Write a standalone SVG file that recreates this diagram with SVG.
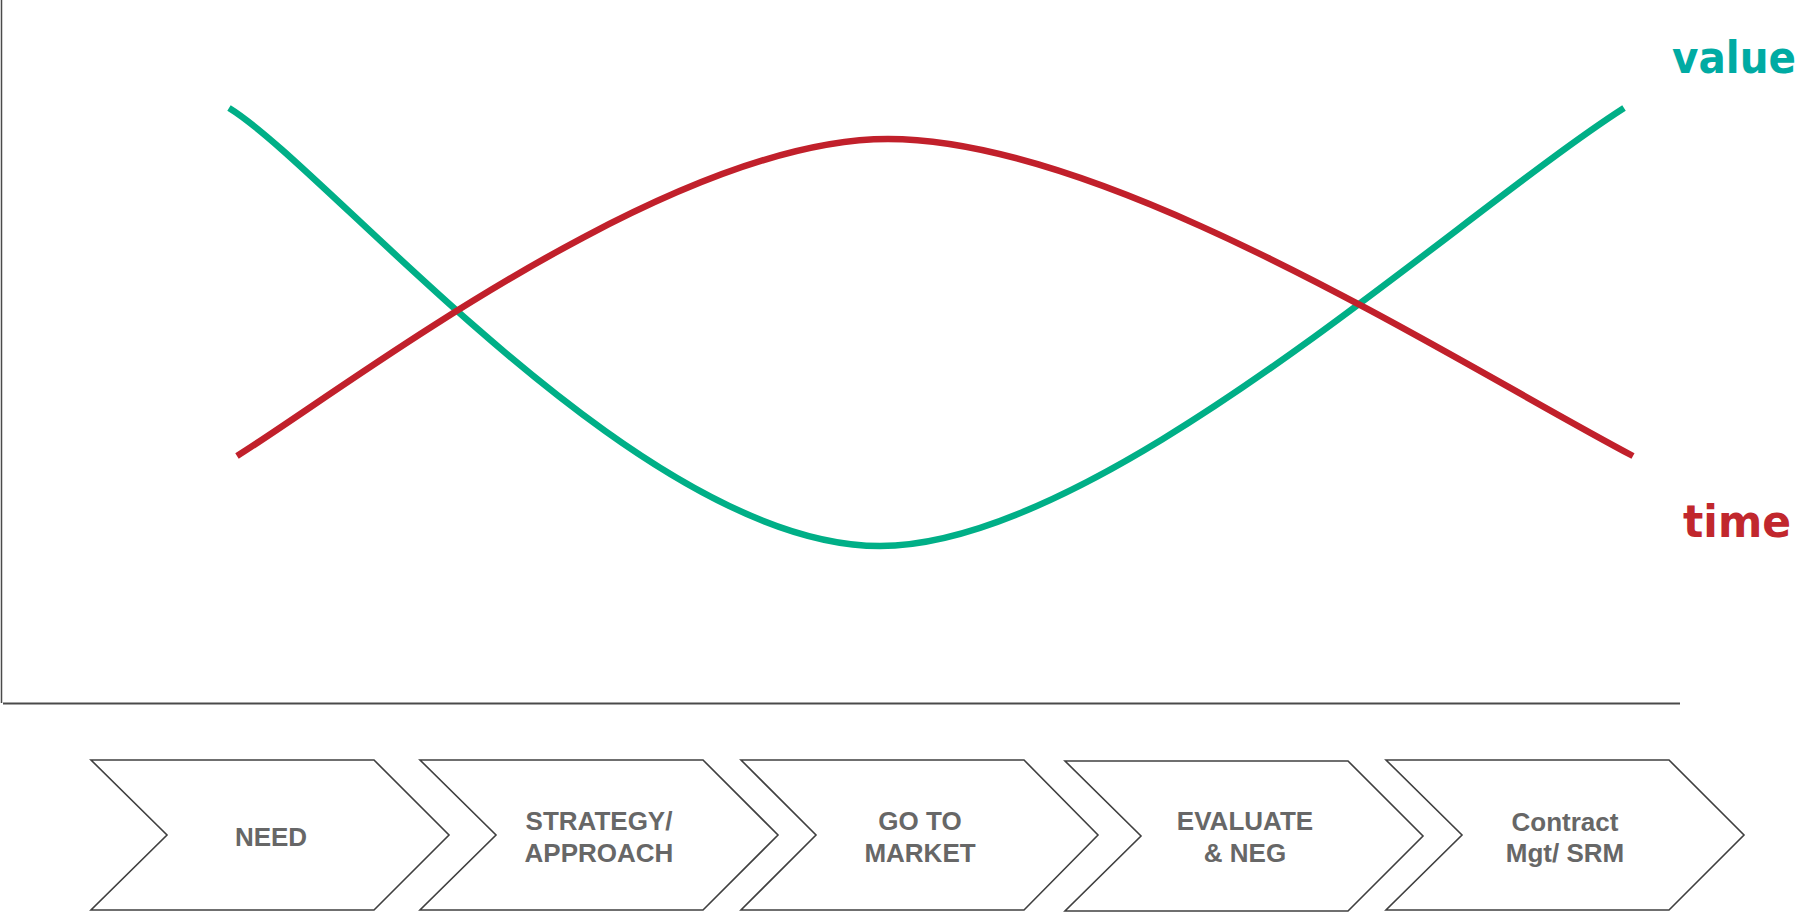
<svg xmlns="http://www.w3.org/2000/svg" width="1810" height="913" viewBox="0 0 1810 913">
<style>
.axis{stroke:#4a4a4a;fill:none}
.curve{fill:none;stroke-width:6.5}
.chev{fill:#ffffff;stroke:#404040;stroke-width:1.6;stroke-linejoin:miter}
.lbl{font-family:"Liberation Sans",Arial,sans-serif;font-weight:bold;font-size:26px;fill:#676767;text-anchor:middle}
.big{font-family:"DejaVu Sans",Verdana,sans-serif;font-weight:bold;font-size:45px}
</style>
<rect width="1810" height="913" fill="#ffffff"/>
<g id="axes">
<line class="axis" x1="1.5" y1="0" x2="1.5" y2="703" stroke-width="1.5"/>
<line class="axis" x1="3" y1="703.5" x2="1680" y2="703.5" stroke-width="2"/>
</g>
<g id="connectors">
<path id="value-curve" class="curve" stroke="#00AF87" d="M229,108 C330,170 640,546 880,546 C1100,546 1450,220 1624,108"/>
<path id="time-curve" class="curve" stroke="#C1202B" d="M237,456 C350,385 670,139 888,139 C1110,139 1455,362 1633,456"/>
</g>
<g id="label-value"><text class="big" x="1672" y="73" fill="#00ABA3" textLength="124" lengthAdjust="spacingAndGlyphs">value</text></g>
<g id="label-time"><text class="big" x="1683" y="537" fill="#C1272D" textLength="108" lengthAdjust="spacingAndGlyphs">time</text></g>
<g id="step-need">
<polygon class="chev" points="91,760 374,760 449,835 374,910 91,910 167,835"/>
<text class="lbl" x="271" y="846">NEED</text>
</g>
<g id="step-strategy">
<polygon class="chev" points="420,760 703,760 778,835 703,910 420,910 496,835"/>
<text class="lbl" x="599" y="830">STRATEGY/</text>
<text class="lbl" x="599" y="862">APPROACH</text>
</g>
<g id="step-market">
<polygon class="chev" points="741,760 1024,760 1098,835 1024,910 741,910 816,835"/>
<text class="lbl" x="920" y="830">GO TO</text>
<text class="lbl" x="920" y="862">MARKET</text>
</g>
<g id="step-evaluate">
<polygon class="chev" points="1065,761 1348,761 1423,836 1348,911 1065,911 1141,836"/>
<text class="lbl" x="1245" y="830">EVALUATE</text>
<text class="lbl" x="1245" y="862">&amp; NEG</text>
</g>
<g id="step-contract">
<polygon class="chev" points="1386,760 1669,760 1744,835 1669,910 1386,910 1462,835"/>
<text class="lbl" x="1565" y="831">Contract</text>
<text class="lbl" x="1565" y="862">Mgt/ SRM</text>
</g>
</svg>
